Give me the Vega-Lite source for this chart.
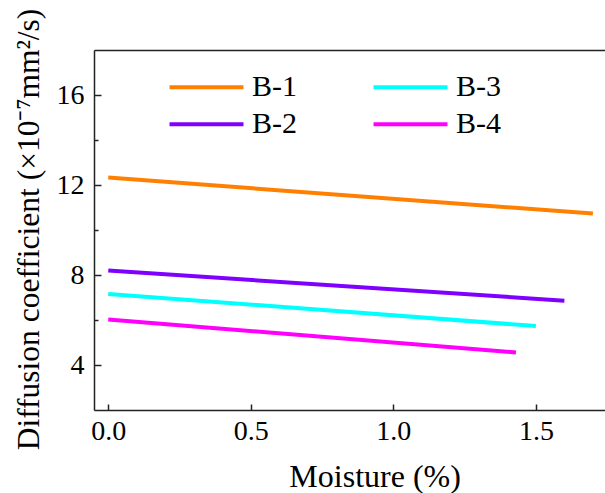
{
  "$schema": "https://vega.github.io/schema/vega-lite/v6.json",
  "width": 511,
  "height": 360,
  "autosize": "none",
  "padding": {"left": 94, "top": 50, "right": 0, "bottom": 83},
  "config": {
    "view": {"stroke": null},
    "font": "Liberation Serif",
    "axis": {"domainColor": "#222", "domainWidth": 1.5, "tickColor": "#222", "tickWidth": 1.5, "grid": false, "labelColor": "#000", "titleColor": "#000", "labelFont": "Liberation Serif", "titleFont": "Liberation Serif", "titleFontWeight": "normal"}
  },
  "data": {"values": [
    {"s": "B-1", "m": 0.0, "d": 12.33},
    {"s": "B-1", "m": 1.7, "d": 10.73},
    {"s": "B-2", "m": 0.0, "d": 8.2},
    {"s": "B-2", "m": 1.6, "d": 6.86},
    {"s": "B-3", "m": 0.0, "d": 7.16},
    {"s": "B-3", "m": 1.5, "d": 5.73},
    {"s": "B-4", "m": 0.0, "d": 6.02},
    {"s": "B-4", "m": 1.43, "d": 4.56}
  ]},
  "layer": [
    {
      "mark": {"type": "line", "strokeWidth": 4, "clip": true},
      "encoding": {
        "x": {"field": "m", "type": "quantitative", "scale": {"domain": [-0.05, 1.7424], "nice": false, "zero": false},
          "axis": {"orient": "bottom", "title": "Moisture (%)", "values": [0, 0.5, 1, 1.5], "format": ".1f", "labelFontSize": 28, "titleFontSize": 32, "tickSize": -6, "labelPadding": 13, "titlePadding": 16, "titleX": 280.6, "labelFlush": false}},
        "y": {"field": "d", "type": "quantitative", "scale": {"domain": [2, 18], "nice": false, "zero": false},
          "axis": {"title": "Diffusion coefficient (×10⁻⁷mm²/s)", "values": [4, 6, 8, 10, 12, 14, 16], "labelExpr": "datum.value % 4 === 0 ? datum.label : ''", "tickSize": {"condition": {"test": "datum.value % 4 === 0", "value": -7}, "value": -4}, "labelFontSize": 28, "titleFontSize": 31.5, "labelPadding": 17, "titlePadding": 11, "titleY": 179}},
        "color": {"field": "s", "type": "nominal",
          "scale": {"domain": ["B-1", "B-2", "B-3", "B-4"], "range": ["#FF8000", "#8000FF", "#00FFFF", "#FF00FF"]},
          "legend": {"title": null, "orient": "none", "legendX": 97.5, "legendY": 22.2, "columns": 2, "symbolType": "M-3,0H3", "symbolSize": 608, "symbolStrokeWidth": 4, "labelFontSize": 30, "labelFont": "Liberation Serif", "labelColor": "#000", "labelOffset": 30.5, "columnPadding": 68, "rowPadding": 7, "padding": 0, "labelLimit": 200}}
      }
    },
    {
      "mark": {"type": "line", "opacity": 0},
      "encoding": {
        "x": {"field": "m", "type": "quantitative", "axis": {"orient": "top", "labels": false, "ticks": false, "title": null}},
        "y": {"field": "d", "type": "quantitative"}
      }
    }
  ],
  "resolve": {"axis": {"x": "independent"}}
}
